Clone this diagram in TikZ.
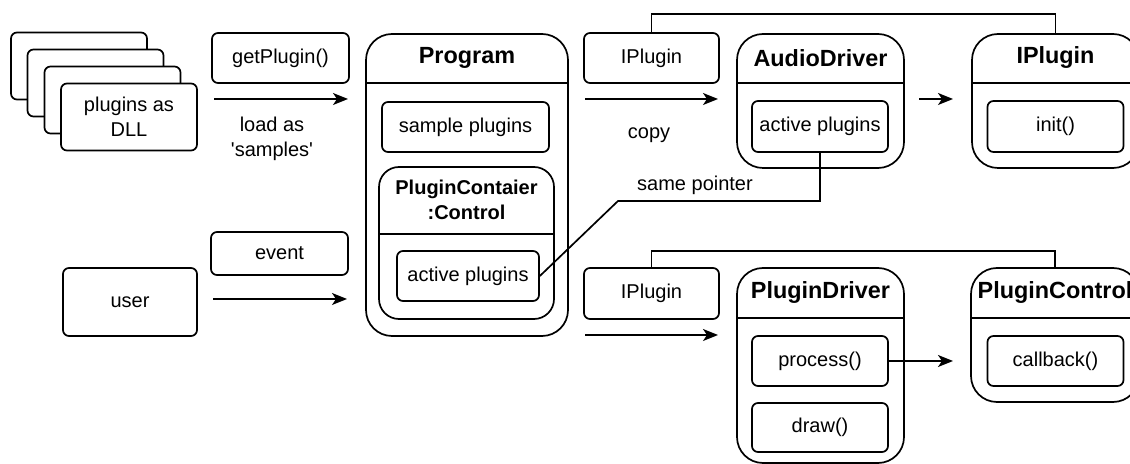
\documentclass[tikz,border=0pt]{standalone}
\usepackage{fontspec}
\setmainfont{Liberation Sans}
\usetikzlibrary{arrows.meta}

\begin{document}
\begin{tikzpicture}
   [x=0.5pt,y=-0.5pt,line width=0.85pt,
    every node/.style={font=\fontsize{10}{12.5}\selectfont,align=center},
    box/.style={draw,fill=white,rounded corners=3pt,inner sep=0pt,minimum width=68pt,minimum height=25pt},
    lane/.style={draw,fill=white,rounded corners=13pt,inner sep=0pt,minimum width=83.5pt},
    title/.style={font=\fontsize{11.7}{14}\selectfont\bfseries,inner sep=0pt},
    flow/.style={-{Stealth[length=7.5pt,width=6pt,inset=2pt]}}]

  \useasboundingbox (0,0) rectangle (1130,464);

  % stacked dll cards
  \foreach \i/\cx/\cy in {1/79/66,2/95.5/83,3/112.5/100}
    \node[box,minimum height=33.5pt] (card\i) at (\cx,\cy) {};
  \node[box,minimum height=33.5pt] (card4) at (129,117) {plugins as\\DLL};
  \node[box,minimum width=67pt,minimum height=34pt] (user) at (130,302) {user};

  % labels above the arrows
  \node[box,minimum width=68.5pt] (getplug) at (280.5,58) {getPlugin()};
  \node[box,minimum width=68.5pt,minimum height=21.5pt] (event) at (279.5,253.5) {event};
  \node[box,minimum width=67.5pt] (ifa) at (651.5,58) {IPlugin};
  \node[box,minimum width=67.5pt,minimum height=25.5pt] (ifb) at (651.5,293.5) {IPlugin};
  \node (loadtxt) at (272,139) {load as\\\textquotesingle samples\textquotesingle};
  \node (copytxt) at (649,135) {copy};
  \node (sametxt) at (695,185) {same pointer};

  % program
  \node[lane,minimum width=101pt,minimum height=151pt] (prog) at (467,185) {};
  \draw ([yshift=-25pt]prog.north west) -- ([yshift=-25pt]prog.north east);
  \node[title] (progt) at (467,58) {Program};
  \node[box,minimum width=83.5pt] (sample) at (465.5,127) {sample plugins};
  \node[lane,rounded corners=10pt,minimum width=87.5pt,minimum height=76pt] (cont) at (466.5,243) {};
  \draw ([yshift=-34pt]cont.north west) -- ([yshift=-34pt]cont.north east);
  \node[title,font=\fontsize{10}{12.5}\selectfont\bfseries] (contt) at (466.5,200) {PluginContaier\\:Control};
  \node[box,minimum width=71pt] (progact) at (468,276) {active plugins};

  % audio driver
  \node[lane,minimum height=67pt] (audio) at (820.5,101) {};
  \draw ([yshift=-25pt]audio.north west) -- ([yshift=-25pt]audio.north east);
  \node[title] (audiot) at (820.5,58) {AudioDriver};
  \node[box,minimum height=25.5pt] (audact) at (820,126.5) {active plugins};

  \node[lane,minimum height=67pt] (iplug) at (1055.5,101) {};
  \draw ([yshift=-25pt]iplug.north west) -- ([yshift=-25pt]iplug.north east);
  \node[title] (iplugt) at (1055.5,58) {IPlugin};
  \node[box,minimum height=25.5pt] (init) at (1055.5,126.5) {init()};

  % plugin driver
  \node[lane,minimum height=97.5pt] (pdrv) at (820.5,365.5) {};
  \draw ([yshift=-25.5pt]pdrv.north west) -- ([yshift=-25.5pt]pdrv.north east);
  \node[title] (pdrvt) at (820.5,293) {PluginDriver};
  \node[box] (process) at (820,361) {process()};
  \node[box,minimum height=24.5pt] (drawfn) at (820,427.5) {draw()};

  \node[lane,minimum width=84pt,minimum height=67pt] (pctl) at (1055,335) {};
  \draw ([yshift=-25.5pt]pctl.north west) -- ([yshift=-25.5pt]pctl.north east);
  \node[title] (pctlt) at (1055,293) {PluginControl};
  \node[box,minimum height=25pt] (callback) at (1055.5,361) {callback()};

  % free arrow ends
  \coordinate (a1) at (214,99);  \coordinate (b1) at (348,99);
  \coordinate (a2) at (213,299); \coordinate (b2) at (347,299);
  \coordinate (a3) at (585,99);  \coordinate (b3) at (718,99);
  \coordinate (a4) at (919,99);  \coordinate (b4) at (953,99);
  \coordinate (a5) at (585,335); \coordinate (b5) at (718,335);
  \coordinate (b6) at (953,361);
  \coordinate (bend) at (618,201);

  \foreach \from/\to in {a1/b1,a2/b2,a3/b3,a4/b4,a5/b5}
    \draw[flow] (\from) -- (\to);
  \draw[flow] (process.east) -- (b6);

  \draw (ifa.north) -- ++(0,-18) -| (iplug.north);
  \draw (ifb.north) -- ++(0,-16) -| (pctl.north);
  \draw (audact.south) |- (bend) -- (progact.east);

\end{tikzpicture}
\end{document}
